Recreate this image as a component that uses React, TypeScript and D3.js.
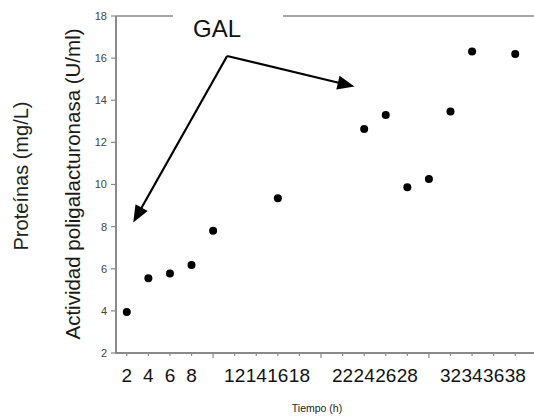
import React from "react";
import * as d3 from "d3";

const hours = [2, 4, 6, 8, 10, 16, 24, 26, 28, 30, 32, 34, 38];
const activity = [3.95, 5.55, 5.78, 6.18, 7.81, 9.35, 12.64, 13.3, 9.87, 10.26, 13.46, 16.31, 16.2];
const yTicks = [2, 4, 6, 8, 10, 12, 14, 16, 18];
const xTicks = [2, 4, 6, 8, 10, 12, 14, 16, 18, 20, 22, 24, 26, 28, 30, 32, 34, 36, 38];
const xLabels = [2, 4, 6, 8, 12, 14, 16, 18, 22, 24, 26, 28, 32, 34, 36, 38];
const majorX = [10, 20, 30];
const annotation = "GAL";
const yTitle = "Actividad poligalacturonasa (U/ml)";
const y2Title = "Proteínas (mg/L)";
const xTitle = "Tiempo (h)";

const W = 534;
const H = 416;
const left = 116;
const top = 16;
const bottom = 353;

export default function App() {
  const x = d3.scaleLinear().domain([1, 40]).range([left, left + 39 * 10.79]);
  const y = d3.scaleLinear().domain([2, 18]).range([bottom, top]);
  const font = "'Liberation Sans', Arial, sans-serif";
  const axisColor = "#8a8a8a";

  // arrow geometry from data space
  const origin = [x(11.3), y(16.1)];
  const tipL = [x(2.6), y(8.2)];
  const tipR = [x(23.1), y(14.65)];

  const arrowHead = (from: number[], to: number[]) => {
    const ang = Math.atan2(to[1] - from[1], to[0] - from[0]);
    const len = 17;
    const half = 7;
    const bx = to[0] - len * Math.cos(ang);
    const by = to[1] - len * Math.sin(ang);
    const px = -Math.sin(ang) * half;
    const py = Math.cos(ang) * half;
    return `M${to[0]},${to[1]} L${bx + px},${by + py} L${bx - px},${by - py} Z`;
  };
  const shaftEnd = (from: number[], to: number[]) => {
    const ang = Math.atan2(to[1] - from[1], to[0] - from[0]);
    return [to[0] - 12 * Math.cos(ang), to[1] - 12 * Math.sin(ang)];
  };
  const eL = shaftEnd(origin, tipL);
  const eR = shaftEnd(origin, tipR);

  return (
    <svg
      width={W}
      height={H}
      style={{ position: "absolute", left: 0, top: 0, background: "#fff" }}
      fontFamily={font}
    >
      {/* axes */}
      <line x1={left} x2={left} y1={top} y2={bottom} stroke={axisColor} strokeWidth={2} />
      <line x1={left - 1} x2={W} y1={bottom} y2={bottom} stroke={axisColor} strokeWidth={2} />
      {/* top border broken by label */}
      <line x1={left} x2={173} y1={top} y2={top} stroke={axisColor} strokeWidth={1.5} />
      <line x1={283} x2={W} y1={top} y2={top} stroke={axisColor} strokeWidth={1.5} />

      {/* y ticks */}
      {yTicks.map((t) => (
        <g key={"y" + t}>
          <line x1={left - 5} x2={left} y1={y(t)} y2={y(t)} stroke={axisColor} strokeWidth={1.2} />
          <text x={left - 9} y={y(t)} dy="0.36em" textAnchor="end" fontSize={11} fill="#444">
            {t}
          </text>
        </g>
      ))}

      {/* x ticks */}
      {xTicks.map((t) => (
        <line
          key={"x" + t}
          x1={x(t)}
          x2={x(t)}
          y1={bottom}
          y2={bottom + (majorX.includes(t) ? 5 : 3)}
          stroke={axisColor}
          strokeWidth={1.2}
        />
      ))}
      {xLabels.map((t) => (
        <text key={"xl" + t} x={x(t)} y={382} textAnchor="middle" fontSize={19} fill="#111">
          {t}
        </text>
      ))}

      <text x={317} y={412} textAnchor="middle" fontSize={10.5} fill="#222">
        {xTitle}
      </text>

      <text
        transform={`translate(80,184) rotate(-90)`}
        textAnchor="middle"
        fontSize={20.5}
        fill="#1a1a1a"
      >
        {yTitle}
      </text>
      <text
        transform={`translate(28,176) rotate(-90)`}
        textAnchor="middle"
        fontSize={20}
        fill="#222"
      >
        {y2Title}
      </text>

      {/* annotation */}
      <text x={193} y={37} fontSize={24} fill="#111">
        {annotation}
      </text>
      <line x1={origin[0]} y1={origin[1]} x2={eL[0]} y2={eL[1]} stroke="#000" strokeWidth={2.2} />
      <line x1={origin[0]} y1={origin[1]} x2={eR[0]} y2={eR[1]} stroke="#000" strokeWidth={2.2} />
      <path d={arrowHead(origin, tipL)} fill="#000" />
      <path d={arrowHead(origin, tipR)} fill="#000" />

      {/* points */}
      {hours.map((h, i) => (
        <circle key={"p" + i} cx={x(h)} cy={y(activity[i])} r={4} fill="#000" />
      ))}
    </svg>
  );
}
